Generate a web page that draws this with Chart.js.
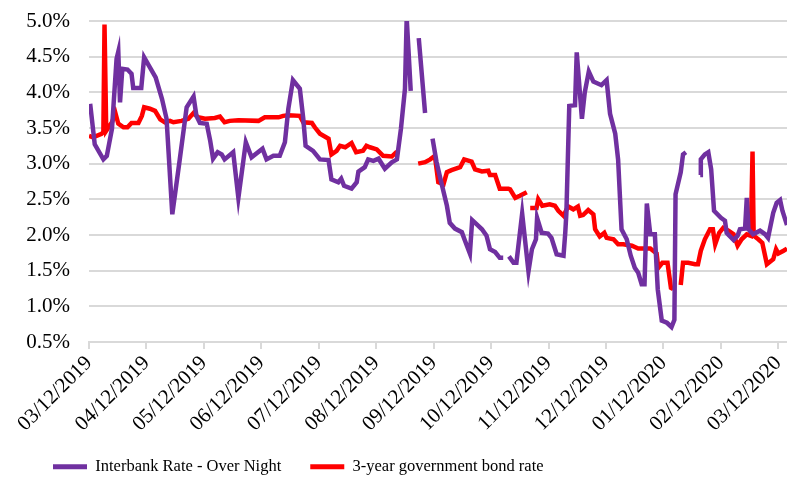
<!DOCTYPE html>
<html>
<head>
<meta charset="utf-8">
<script src="https://cdn.jsdelivr.net/npm/chart.js@4.4.0/dist/chart.umd.min.js"></script>
<style>
  html, body { margin: 0; padding: 0; background: #fff; }
  #wrap { width: 787px; height: 485px; }
</style>
</head>
<body>
<div id="wrap"><canvas id="rateChart"></canvas></div>
<script>
// month tick labels (x = months since 03/12/2019)
const dateLabels = ['03/12/2019', '04/12/2019', '05/12/2019', '06/12/2019', '07/12/2019', '08/12/2019',
  '09/12/2019', '10/12/2019', '11/12/2019', '12/12/2019', '01/12/2020', '02/12/2020', '03/12/2020'];

// Interbank Rate - Over Night (null = missing data)
const ibX = [0.02, 0.10, 0.25, 0.31, 0.40, 0.48, 0.51, 0.54, 0.58, 0.67,
  0.74, 0.77, 0.91, 0.96, 1.06, 1.16, 1.27, 1.35, 1.45, 1.58,
  1.70, 1.82, 1.87, 1.93, 2.05, 2.11, 2.16, 2.24, 2.31, 2.36,
  2.51, 2.60, 2.73, 2.83, 3.02, 3.09, 3.21, 3.32, 3.41, 3.47,
  3.55, 3.67, 3.73, 3.77, 3.90, 4.02, 4.17, 4.22, 4.34, 4.39,
  4.44, 4.57, 4.66, 4.69, 4.80, 4.86, 4.95, 5.04, 5.15, 5.27,
  5.36, 5.43, 5.50, 5.53, 5.56, 5.60, 5.67, 5.74, 5.85, 5.92,
  5.98, 6.05, 6.14, 6.23, 6.28, 6.37, 6.49, 6.54, 6.63, 6.67,
  6.75, 6.84, 6.92, 6.98, 7.07, 7.15, 7.21, 7.26, 7.31, 7.39,
  7.44, 7.54, 7.65, 7.71, 7.78, 7.80, 7.88, 7.99, 8.05, 8.14,
  8.26, 8.29, 8.31, 8.36, 8.46, 8.49, 8.58, 8.63, 8.70, 8.78,
  8.92, 9.01, 9.07, 9.16, 9.21, 9.27, 9.36, 9.43, 9.50, 9.56,
  9.62, 9.67, 9.71, 9.77, 9.85, 9.90, 9.97, 10.06, 10.14, 10.19,
  10.21, 10.30, 10.34, 10.39, 10.50, 10.64, 10.65, 10.72, 10.78, 10.83,
  10.88, 11.00, 11.07, 11.10, 11.22, 11.29, 11.33, 11.42, 11.45, 11.48,
  11.56, 11.68, 11.77, 11.82, 11.91, 11.97, 12.03, 12.07, 12.15];
const ibY = [3.84, 3.27, 3.06, 3.11, 3.49, 4.47, 4.57, 3.86, 4.33, 4.32,
  4.26, 4.06, 4.06, 4.49, 4.35, 4.21, 3.91, 3.63, 2.29, 3.06,
  3.79, 3.94, 3.67, 3.57, 3.56, 3.32, 3.07, 3.16, 3.13, 3.06,
  3.16, 2.52, 3.30, 3.09, 3.21, 3.06, 3.11, 3.11, 3.30, 3.77,
  4.17, 4.05, 3.63, 3.25, 3.18, 3.06, 3.05, 2.78, 2.74, 2.79,
  2.69, 2.65, 2.74, 2.89, 2.95, 3.06, 3.04, 3.07, 2.93, 3.02,
  3.06, 3.49, 4.05, 5.04, 4.61, 4.02, null, 4.76, 3.71, null,
  3.35, 3.02, 2.71, 2.41, 2.17, 2.09, 2.04, 1.93, 1.74, 2.21,
  2.15, 2.08, 1.99, 1.80, 1.76, 1.68, 1.68, null, 1.70, 1.61,
  1.61, 2.30, 1.49, 1.80, 1.94, 2.24, 2.03, 2.02, 1.96, 1.73,
  1.71, 2.03, 2.31, 3.81, 3.82, 4.56, 3.63, 4.00, 4.29, 4.15,
  4.10, 4.17, 3.70, 3.42, 3.06, 2.08, 1.94, 1.71, 1.54, 1.47,
  1.31, 1.31, 2.44, 2.01, 2.01, 1.24, 0.80, 0.77, 0.71, 0.81,
  2.57, 2.88, 3.13, 3.16, null, 2.84, 3.06, 3.13, 3.16, 2.92,
  2.34, 2.24, 2.20, 2.03, 1.93, 1.99, 2.08, 2.09, 2.52, 2.08,
  2.01, 2.06, 2.01, 1.96, 2.31, 2.45, 2.49, 2.34, 2.14];

// 3-year government bond rate
const bondX = [0.00, 0.07, 0.22, 0.25, 0.27, 0.30, 0.40, 0.46, 0.51, 0.60,
  0.67, 0.74, 0.86, 0.92, 0.96, 1.06, 1.15, 1.24, 1.32, 1.41,
  1.47, 1.61, 1.73, 1.82, 1.90, 2.02, 2.19, 2.28, 2.36, 2.45,
  2.60, 2.95, 3.06, 3.30, 3.38, 3.47, 3.67, 3.73, 3.88, 3.93,
  4.02, 4.17, 4.22, 4.31, 4.37, 4.46, 4.57, 4.65, 4.77, 4.83,
  4.89, 5.01, 5.12, 5.27, 5.36, 5.50, 5.73, 5.85, 5.94, 6.02,
  6.08, 6.17, 6.23, 6.31, 6.46, 6.53, 6.66, 6.72, 6.84, 6.95,
  6.98, 7.07, 7.15, 7.30, 7.33, 7.42, 7.50, 7.62, 7.65, 7.68,
  7.79, 7.82, 7.89, 8.02, 8.11, 8.17, 8.26, 8.34, 8.43, 8.51,
  8.55, 8.60, 8.69, 8.78, 8.81, 8.89, 8.97, 9.01, 9.13, 9.21,
  9.30, 9.45, 9.56, 9.77, 9.88, 9.91, 9.98, 10.07, 10.13, 10.17,
  10.24, 10.30, 10.34, 10.43, 10.55, 10.60, 10.65, 10.72, 10.81, 10.86,
  10.90, 10.97, 11.04, 11.13, 11.22, 11.29, 11.36, 11.45, 11.52, 11.55,
  11.57, 11.65, 11.72, 11.80, 11.91, 11.96, 12.00, 12.09, 12.15];
const bondY = [3.39, 3.37, 3.42, 3.44, 4.95, 3.46, 3.58, 3.71, 3.56, 3.51,
  3.51, 3.57, 3.57, 3.67, 3.79, 3.77, 3.74, 3.62, 3.58, 3.60,
  3.58, 3.60, 3.63, 3.71, 3.65, 3.63, 3.64, 3.66, 3.58, 3.60,
  3.61, 3.60, 3.65, 3.65, 3.67, 3.68, 3.67, 3.58, 3.57, 3.51,
  3.42, 3.35, 3.13, 3.18, 3.25, 3.23, 3.29, 3.16, 3.18, 3.25,
  3.23, 3.20, 3.11, 3.10, 3.17, null, 3.00, 3.02, 3.06, 3.11,
  2.74, 2.71, 2.88, 2.91, 2.95, 3.06, 3.03, 2.92, 2.89, 2.90,
  2.84, 2.84, 2.65, 2.65, 2.64, 2.52, 2.55, 2.60, null, 2.38,
  2.38, 2.50, 2.41, 2.43, 2.41, 2.34, 2.27, 2.40, 2.36, 2.40,
  2.27, 2.28, 2.35, 2.29, 2.08, 1.98, 2.03, 1.96, 1.94, 1.87,
  1.87, 1.85, 1.81, 1.81, 1.74, 1.54, 1.61, 1.61, 1.26, 1.24,
  null, 1.30, 1.61, 1.61, 1.59, 1.59, 1.78, 1.94, 2.08, 2.08,
  1.87, 2.03, 2.10, 2.06, 2.01, 1.85, 1.94, 2.01, 1.99, 3.17,
  1.99, 1.94, 1.89, 1.59, 1.66, 1.80, 1.74, 1.78, 1.81];

const toPoints = (xs, ys) => xs.map((x, i) => ({ x: x, y: ys[i] }));

Chart.defaults.font.family = '"Liberation Serif", "Times New Roman", serif';
Chart.defaults.color = '#000';

const defaultLabels = Chart.defaults.plugins.legend.labels.generateLabels;

new Chart(document.getElementById('rateChart'), {
  type: 'line',
  data: {
    datasets: [
      {
        label: 'Interbank Rate - Over Night',
        data: toPoints(ibX, ibY),
        borderColor: '#7030a0',
        backgroundColor: '#7030a0',
        borderWidth: 4.5,
        pointRadius: 0,
        tension: 0,
        spanGaps: false,
      },
      {
        label: '3-year government bond rate',
        data: toPoints(bondX, bondY),
        borderColor: '#ff0000',
        backgroundColor: '#ff0000',
        borderWidth: 4.5,
        pointRadius: 0,
        tension: 0,
        spanGaps: false,
      },
    ],
  },
  options: {
    responsive: true,
    maintainAspectRatio: false,
    animation: false,
    layout: { padding: { left: 24, top: 21, right: 0, bottom: 0 } },
    plugins: {
      tooltip: { enabled: false },
      legend: {
        position: 'bottom',
        align: 'start',
        labels: {
          boxWidth: 34,
          boxHeight: 5,
          padding: 29,
          font: { size: 16.5 },
          color: '#000',
          generateLabels: (chart) => defaultLabels(chart).map((l) => ({ ...l, lineWidth: 0 })),
        },
      },
    },
    scales: {
      x: {
        type: 'linear',
        min: 0,
        max: 12.15,
        // one tick per month label
        afterBuildTicks: (s) => {
          s.ticks = dateLabels.map((_, i) => ({ value: i }));
        },
        afterFit: (s) => {
          s.paddingLeft = 0;
          s.paddingRight = 0;
          s.height = 87.5;
        },
        ticks: {
          autoSkip: false,
          maxRotation: 45,
          minRotation: 45,
          padding: 2,
          font: { size: 21 },
          callback: (v) => dateLabels[v] ?? '',
        },
        grid: { drawOnChartArea: false, tickLength: 7, color: '#d9d9d9', lineWidth: 2 },
        border: { color: '#d9d9d9', width: 2 },
      },
      y: {
        min: 0.5,
        max: 5,
        afterFit: (s) => {
          s.width = 65;
          s.paddingTop = 0;
          s.paddingBottom = 0;
        },
        ticks: {
          stepSize: 0.5,
          padding: 19,
          font: { size: 21 },
          callback: (v) => v.toFixed(1) + '%',
        },
        grid: { color: '#d9d9d9', lineWidth: 2, drawTicks: false },
        border: { display: false },
      },
    },
  },
});
</script>
</body>
</html>
